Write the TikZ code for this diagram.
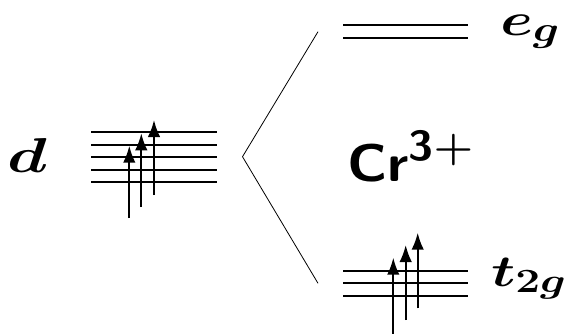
\RequirePackage{fix-cm}
\documentclass[tikz,border=0pt]{standalone}
\usepackage{amsmath,bm}
\usetikzlibrary{arrows.meta}
\DeclareMathSizes{46}{46}{35.5}{25}
\DeclareMathSizes{44.5}{44.5}{34}{24}
\DeclareMathSizes{49}{49}{36}{25}
\tikzset{
  level/.style={line width=2pt},
  spin/.style={line width=2pt,-{Latex[length=17pt,width=12.5pt]}},
  split/.style={line width=0.8pt},
  biglabel/.style={inner sep=0pt,anchor=base west},
}
\begin{document}
\begin{tikzpicture}[x=1pt,y=-1pt]
\useasboundingbox (0,0) rectangle (571,335);
% d levels
\foreach \i/\y in {1/132,2/144.5,3/157,4/169.5,5/182}
  \draw[level] (91,\y) coordinate (dl\i) -- (217,\y) coordinate (dr\i);
\draw[spin] (129.3,218) coordinate (da1) -- (129.3,145.7) coordinate (db1);
\draw[spin] (141.3,207) coordinate (da2) -- (141.3,133.3) coordinate (db2);
\draw[spin] (154,195) coordinate (da3) -- (154,120) coordinate (db3);
% eg levels
\foreach \i/\y in {1/25,2/37.7}
  \draw[level] (343,\y) coordinate (el\i) -- (468,\y) coordinate (er\i);
% t2g levels
\foreach \i/\y in {1/270.7,2/283,3/295.7}
  \draw[level] (343,\y) coordinate (tl\i) -- (468,\y) coordinate (tr\i);
\draw[spin] (393.3,333.5) coordinate (ta1) -- (393.3,257.7) coordinate (tb1);
\draw[spin] (405.7,320) coordinate (ta2) -- (405.7,245) coordinate (tb2);
\draw[spin] (417.7,308.3) coordinate (ta3) -- (417.7,232.7) coordinate (tb3);
% splitting
\coordinate (top) at (318,31.7);
\coordinate (vx) at (242.5,156.7);
\coordinate (bot) at (318,283.3);
\draw[split] (top) -- (vx) -- (bot);
% labels
\node[biglabel,xscale=1.33,font=\fontsize{49}{56}\selectfont\boldmath] (dlab) at (7,172.5) {$d$};
\node[biglabel,xscale=1.28,font=\fontsize{46}{55}\selectfont\boldmath] (eglab) at (500,35) {$e_g$};
\node[biglabel,xscale=1.3,font=\fontsize{44.5}{55}\selectfont\boldmath] (tlab) at (491,286) {$t_{2g}$};
\node[biglabel,xscale=1.08,font=\fontsize{53}{60}\selectfont\sffamily\bfseries] (cr) at (347,181.7)
  {Cr\raisebox{21pt}{\fontsize{42}{50}\selectfont 3$\boldsymbol{+}$}};
\end{tikzpicture}
\end{document}
